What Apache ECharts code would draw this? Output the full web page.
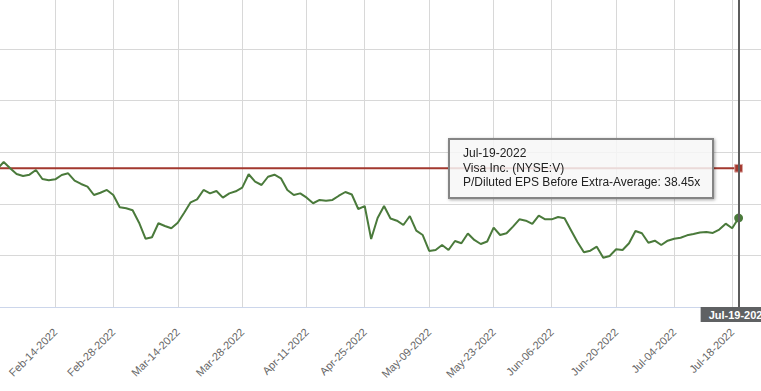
<!DOCTYPE html>
<html><head><meta charset="utf-8">
<script src="https://cdn.jsdelivr.net/npm/echarts@6/dist/echarts.min.js"></script>
<style>html,body{margin:0;padding:0;background:#fff;overflow:hidden;width:761px;height:391px}#c{width:800px;height:391px}</style>
</head><body><div id="c"></div><script>
const dates = [
"Feb-01-2022","Feb-02-2022","Feb-03-2022","Feb-04-2022","Feb-07-2022","Feb-08-2022","Feb-09-2022","Feb-10-2022","Feb-11-2022","Feb-14-2022","Feb-15-2022","Feb-16-2022","Feb-17-2022","Feb-18-2022","Feb-22-2022","Feb-23-2022","Feb-24-2022","Feb-25-2022","Feb-28-2022",
"Mar-01-2022","Mar-02-2022","Mar-03-2022","Mar-04-2022","Mar-07-2022","Mar-08-2022","Mar-09-2022","Mar-10-2022","Mar-11-2022","Mar-14-2022","Mar-15-2022","Mar-16-2022","Mar-17-2022","Mar-18-2022","Mar-21-2022","Mar-22-2022","Mar-23-2022","Mar-24-2022","Mar-25-2022","Mar-28-2022","Mar-29-2022","Mar-30-2022","Mar-31-2022",
"Apr-01-2022","Apr-04-2022","Apr-05-2022","Apr-06-2022","Apr-07-2022","Apr-08-2022","Apr-11-2022","Apr-12-2022","Apr-13-2022","Apr-14-2022","Apr-18-2022","Apr-19-2022","Apr-20-2022","Apr-21-2022","Apr-22-2022","Apr-25-2022","Apr-26-2022","Apr-27-2022","Apr-28-2022","Apr-29-2022",
"May-02-2022","May-03-2022","May-04-2022","May-05-2022","May-06-2022","May-09-2022","May-10-2022","May-11-2022","May-12-2022","May-13-2022","May-16-2022","May-17-2022","May-18-2022","May-19-2022","May-20-2022","May-23-2022","May-24-2022","May-25-2022","May-26-2022","May-27-2022","May-31-2022",
"Jun-01-2022","Jun-02-2022","Jun-03-2022","Jun-06-2022","Jun-07-2022","Jun-08-2022","Jun-09-2022","Jun-10-2022","Jun-13-2022","Jun-14-2022","Jun-15-2022","Jun-16-2022","Jun-17-2022","Jun-21-2022","Jun-22-2022","Jun-23-2022","Jun-24-2022","Jun-27-2022","Jun-28-2022","Jun-29-2022","Jun-30-2022",
"Jul-01-2022","Jul-05-2022","Jul-06-2022","Jul-07-2022","Jul-08-2022","Jul-11-2022","Jul-12-2022","Jul-13-2022","Jul-14-2022","Jul-15-2022","Jul-18-2022","Jul-19-2022"
];
const peValues = [
38.38,39.06,38.45,37.90,37.70,37.83,38.28,37.41,37.29,37.38,37.80,37.96,37.25,36.93,36.67,35.86,36.08,36.35,35.86,
34.67,34.57,34.38,33.17,31.62,31.76,33.12,32.85,32.63,33.17,34.14,35.15,35.44,36.35,36.02,36.25,35.60,36.02,36.22,36.57,37.87,37.15,36.83,
37.63,37.83,37.48,36.35,35.86,36.02,35.60,35.06,35.38,35.31,35.38,35.79,36.15,35.91,34.50,34.79,31.59,33.63,34.79,33.58,
33.37,32.95,33.82,32.40,31.98,30.43,30.53,31.01,30.53,31.40,31.18,32.13,31.50,31.11,31.35,32.69,31.98,32.15,32.79,33.50,33.37,
33.05,33.85,33.50,33.50,33.73,33.60,32.45,31.30,30.30,30.46,30.85,29.78,29.95,30.60,30.53,31.18,32.37,32.15,31.23,31.43,31.01,
31.43,31.62,31.72,31.95,32.08,32.22,32.27,32.18,32.51,33.08,32.63,33.63
];
const averageValue = 38.45;
const tickDates = ["Feb-14-2022","Feb-28-2022","Mar-14-2022","Mar-28-2022","Apr-11-2022","Apr-25-2022","May-09-2022","May-23-2022","Jun-06-2022","Jun-20-2022","Jul-04-2022","Jul-18-2022"];
const companyName = "Visa Inc. (NYSE:V)";
const metricName = "P/Diluted EPS Before Extra-Average";
const yMin = 25, yMax = 55, yStep = 5;

const MON = {Jan:0,Feb:1,Mar:2,Apr:3,May:4,Jun:5,Jul:6,Aug:7,Sep:8,Oct:9,Nov:10,Dec:11};
function toTime(s){const p=s.split('-');return Date.UTC(+p[2],MON[p[0]],+p[1]);}
const labelAt = {};
tickDates.forEach(t=>{const i=dates.findIndex(d=>toTime(d)>=toTime(t)); if(i>=0) labelAt[i]=t;});
const showAt = i => labelAt[i] !== undefined;
const last = dates.length - 1;
const avgSeries = dates.map(()=>averageValue);

const chart = echarts.init(document.getElementById('c'), null, {renderer:'svg'});
chart.setOption({
  animation:false,
  backgroundColor:'#ffffff',
  grid:{left:-2.75, right:35.6, top:-2.4, bottom:84, containLabel:false, outerBoundsMode:'none'},
  xAxis:{
    type:'category', data:dates, boundaryGap:false, max:last+4,
    axisLine:{show:true, lineStyle:{color:'#ccd6eb', width:1}},
    axisTick:{show:false},
    axisLabel:{interval:(i)=>showAt(i), formatter:(v,i)=>labelAt[i]||'', rotate:45, margin:23,
      fontSize:11, color:'#666666', fontFamily:'"Liberation Sans", Arial, sans-serif'},
    splitLine:{show:true, interval:(i)=>showAt(i), lineStyle:{color:'#d8d8d8', width:1}}
  },
  yAxis:{
    type:'value', min:yMin, max:yMax, interval:yStep,
    axisLabel:{show:false}, axisLine:{show:false}, axisTick:{show:false},
    splitLine:{show:true, lineStyle:{color:'#d8d8d8', width:1}}
  },
  tooltip:{
    trigger:'axis', alwaysShowContent:true, transitionDuration:0, showDelay:0, hideDelay:0,
    position:[448,138],
    backgroundColor:'rgba(247,247,247,0.85)', borderColor:'#858585', borderWidth:2,
    padding:[6,12,7,13],
    textStyle:{color:'#222', fontSize:12, fontFamily:'"Liberation Sans", Arial, sans-serif'},
    extraCssText:'box-shadow:1px 1px 3px rgba(0,0,0,0.35);border-radius:0;line-height:14.5px;',
    formatter:(params)=>{
      const d = Array.isArray(params)?params[0].axisValue:params.name;
      return d + '<br/>' + companyName + '<br/>' + metricName + ': ' + averageValue.toFixed(2) + 'x';
    },
    axisPointer:{
      type:'line', lineStyle:{color:'#5c5c5c', width:2, type:'solid'},
      label:{show:true, backgroundColor:'#5f6163', color:'#ffffff', fontWeight:'bold', fontSize:11,
        fontFamily:'"Liberation Sans", Arial, sans-serif', padding:[2,8,2,8], margin:0, borderRadius:0}
    }
  },
  series:[
    {type:'line', name:'PE', data:peValues, color:'#4a7a3b',
      lineStyle:{width:2, color:'#4a7a3b'}, symbol:'circle',
      symbolSize:(v,p)=>p.dataIndex===last?8:0, showSymbol:true, showAllSymbol:true,
      itemStyle:{color:'#4a7a3b'}, emphasis:{disabled:true}, z:3},
    {type:'line', name:'Average', data:avgSeries, color:'#a3392f',
      lineStyle:{width:2, color:'#a3392f'}, symbol:'rect',
      symbolSize:(v,p)=>p.dataIndex===last?7:0, showSymbol:true, showAllSymbol:true,
      itemStyle:{color:'#a3392f', borderColor:'#dba5a0', borderWidth:1}, emphasis:{disabled:true}, z:2}
  ]
});
chart.dispatchAction({type:'showTip', seriesIndex:0, dataIndex:last});
</script></body></html>
